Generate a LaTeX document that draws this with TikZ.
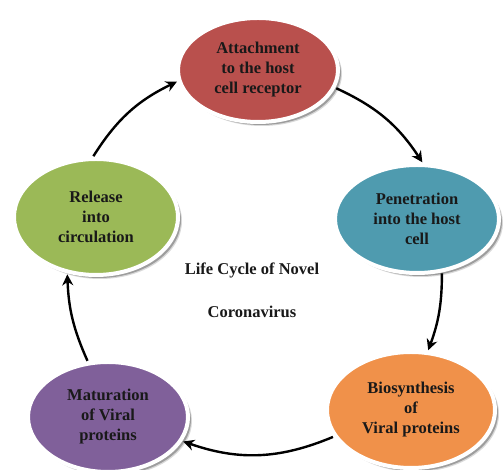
\documentclass[tikz,border=0pt]{standalone}
\usepackage{fontspec}
\setmainfont{Liberation Serif}
\usetikzlibrary{arrows.meta,shapes.geometric,shadows}
\definecolor{cAtt}{RGB}{185,80,77}
\definecolor{cPen}{RGB}{79,155,175}
\definecolor{cBio}{RGB}{240,145,74}
\definecolor{cMat}{RGB}{128,96,154}
\definecolor{cRel}{RGB}{155,185,87}
\definecolor{txt}{RGB}{25,25,25}
\tikzset{
  stage/.style={ellipse, draw=white, line width=4pt, inner sep=0pt,
    text=txt, align=center,
    font=\fontsize{16.5}{20}\selectfont\bfseries,
    general shadow={shadow xshift=4pt, shadow yshift=-4pt, fill=black, opacity=0.15, scale=1.04},
    drop shadow={shadow xshift=3pt, shadow yshift=-3pt, fill=black, opacity=0.28}},
  arr/.style={line width=2.4pt, black, -{Stealth[length=11pt,width=11pt]}, shorten <=1pt, shorten >=1pt},
  titletext/.style={font=\fontsize{16.5}{20}\selectfont\bfseries, text=txt}
}
\begin{document}
\begin{tikzpicture}[x=1pt,y=1pt]
\useasboundingbox (0,0) rectangle (503,470);
\node[stage, fill=cAtt, minimum width=160, minimum height=104] (att) at (258,400) {Attachment\\to the host\\cell receptor};
\node[stage, fill=cPen, minimum width=164, minimum height=108] (pen) at (417,251) {Penetration\\into the host\\cell};
\node[stage, fill=cBio, minimum width=168, minimum height=116] (bio) at (411,60) {Biosynthesis\\of\\Viral proteins};
\node[stage, fill=cMat, minimum width=160, minimum height=110] (mat) at (108,53) {Maturation\\of Viral\\proteins};
\node[stage, fill=cRel, minimum width=164, minimum height=116] (rel) at (96,253) {Release\\into\\circulation};
\node[titletext] (t1) at (252,200) {Life Cycle of Novel};
\node[titletext] (t2) at (252,158) {Coronavirus};
\draw[arr] (rel.93) to[bend left=16] (att.188);
\draw[arr] (att.-13) to[bend left=16] (pen.84);
\draw[arr] (pen.-65) to[bend left=10] (bio.74);
\draw[arr] (bio.199) to[bend left=21] (mat.-18);
\draw[arr] (mat.110) to[bend left=11] (rel.243);
\end{tikzpicture}
\end{document}
